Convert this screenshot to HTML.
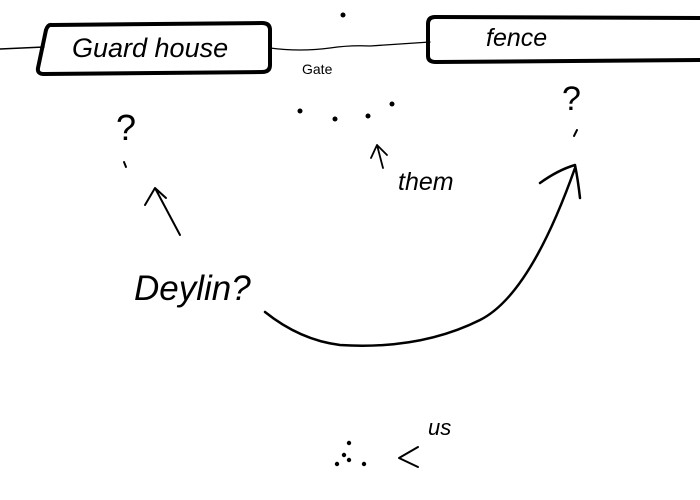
<!DOCTYPE html>
<html><head><meta charset="utf-8"><style>
html,body{margin:0;padding:0;background:#fff;width:700px;height:500px;overflow:hidden}
svg{display:block}
text{font-family:"Liberation Sans",sans-serif;fill:#000}
</style></head><body>
<svg width="700" height="500" viewBox="0 0 700 500" xmlns="http://www.w3.org/2000/svg" fill="none" stroke="#000" stroke-linecap="round" stroke-linejoin="round">
<path d="M0 49 L44 47" stroke-width="1.5"/>
<path d="M52 25 Q48 24 46 30 L38 68 Q37 74 44 74 L262 72 Q270 72 270 65 L270 30 Q270 23 262 23 L52 25" stroke-width="4"/>
<text x="72" y="57" font-size="27" font-style="italic" stroke="none">Guard house</text>
<path d="M270 48 Q300 52 330 48 Q350 45 370 46 Q400 44 430 42" stroke-width="1.3"/>
<text x="302" y="74" font-size="14" stroke="none">Gate</text>
<circle cx="343" cy="15" r="2.5" fill="#000" stroke="none"/>
<path d="M700 18 L435 17 Q428 17 428 24 L428 56 Q428 62 436 62 L700 60" stroke-width="4"/>
<text x="486" y="46" font-size="25" font-style="italic" stroke="none">fence</text>
<text x="116" y="140" font-size="36" stroke="none">?</text>
<path d="M124 162 L126 167" stroke-width="2"/>
<path d="M180 235 L155 188 M155 188 L145 205 M155 188 L166 198" stroke-width="2"/>
<circle cx="300" cy="111" r="2.5" fill="#000" stroke="none"/>
<circle cx="335" cy="119" r="2.5" fill="#000" stroke="none"/>
<circle cx="368" cy="116" r="2.5" fill="#000" stroke="none"/>
<circle cx="392" cy="104" r="2.5" fill="#000" stroke="none"/>
<path d="M383 168 L377 145 M377 145 L371 158 M377 145 L387 155" stroke-width="1.8"/>
<text x="398" y="190" font-size="25" font-style="italic" stroke="none">them</text>
<text x="562" y="110" font-size="34" stroke="none">?</text>
<path d="M577 130 L574 136" stroke-width="2"/>
<text x="134" y="300" font-size="35" font-style="italic" stroke="none">Deylin?</text>
<path d="M265 312 Q300 340 340 345 Q420 350 480 320 Q530 295 575 168" stroke-width="2.5"/>
<path d="M540 183 Q558 170 575 165 Q578 180 580 198" stroke-width="2.5"/>
<circle cx="349" cy="443" r="2.2" fill="#000" stroke="none"/>
<circle cx="344" cy="455" r="2.2" fill="#000" stroke="none"/>
<circle cx="337" cy="464" r="2.2" fill="#000" stroke="none"/>
<circle cx="349" cy="460" r="2.2" fill="#000" stroke="none"/>
<circle cx="364" cy="464" r="2.2" fill="#000" stroke="none"/>
<path d="M418 447 L399 458 L418 467" stroke-width="2"/>
<text x="428" y="435" font-size="22" font-style="italic" stroke="none">us</text>
</svg>
</body></html>
